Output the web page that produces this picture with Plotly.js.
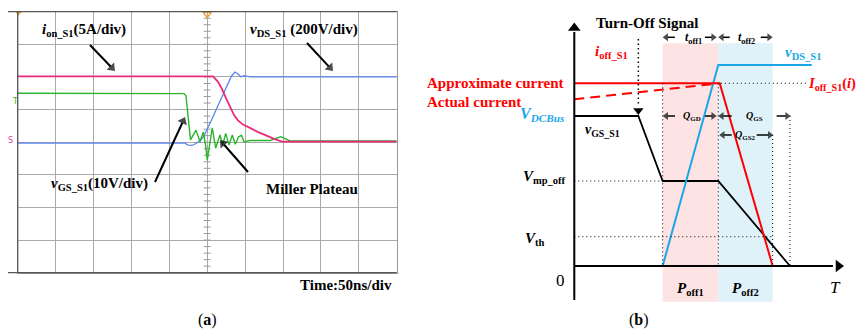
<!DOCTYPE html>
<html><head><meta charset="utf-8">
<script src="https://cdn.plot.ly/plotly-3.0.1.min.js"></script>
<style>html,body{margin:0;padding:0;background:#fff;}#chart{width:857px;height:331px;}</style>
</head><body><div id="chart"></div>
<script>
// ---------- Panel (a): oscilloscope traces (time in ns, amplitude in divisions) ----------
const ionTime = [-250, 7.7, 14.3, 19.5, 24.8, 30.1, 35.4, 40.6, 47.2, 56.5, 67.1, 77.6, 88.1, 98.7, 250];
const ionDiv  = [2.02, 2.02, 1.85, 1.63, 1.35, 1.08, 0.83, 0.67, 0.54, 0.44, 0.31, 0.21, 0.10, 0.02, 0.02];
const vdsTime = [-250, -29.3, -25.3, -20.1, -14.8, -9.5, -4.2, 1.1, 6.3, 11.6, 16.9, 22.2, 27.4, 32.1, 36.7, 40.6, 44.6, 48.5, 56.5, 250];
const vdsDiv  = [-0.03, -0.03, -0.09, -0.10, -0.04, 0.04, 0.19, 0.44, 0.71, 0.99, 1.26, 1.54, 1.81, 2.03, 2.15, 2.09, 2.00, 2.04, 2.00, 2.00];
const vgsTime = [-250, -30.6, -28.0, -26.0, -24.0, -22.0, -14.8, -9.5, -5.1, -2.2, 0.1, 3.0, 6.7, 11.2, 16.9, 20.4, 24.4, 28.8, 33.1, 37.1, 41.3, 45.2, 48.5, 56.5, 69.7, 82.8, 92.1, 97.4, 102.6, 109.2, 250];
const vgsDiv  = [1.50, 1.49, 1.42, 0.99, 0.37, 0.07, 0.37, 0.02, 0.31, -0.09, -0.55, -0.12, 0.44, -0.18, 0.22, -0.09, 0.27, -0.09, 0.22, -0.06, 0.16, 0.21, 0.01, 0.05, 0.04, 0.05, 0.13, 0.17, 0.11, 0.04, 0.04];
const timeRange = [-250, 250];   // 10 div x 50 ns
const divRange = [-4, 4];        // 8 vertical divisions

// ---------- Panel (b): idealised turn-off waveforms (arbitrary units) ----------
const gsT = [0, 5.77, 7.96, 12.97, 19.43];
const gsV = [15.0, 15.0, 8.5, 8.5, 0];
const dsT = [7.96, 12.97, 21.39];
const dsV = [0, 20.1, 20.1];
const apT = [0, 13.1, 17.87];
const apV = [18.27, 18.27, 0];
const acT = [0, 13.1];
const acV = [16.67, 18.27];
const phaseEdges = [7.96, 12.97, 17.87];   // t1, t2, t3
const tTurnOff = 5.77, tGateEnd = 19.43;
const vMp = 8.5, vTh = 2.93, iOff = 18.27;

const W = 857, H = 331;
const SERIF = 'Liberation Serif, Times New Roman, serif';
const BLUEB = '#1aa7e8', RED = '#ff0000';
const PINK = '#ec2a7c', GREEN = '#2cb52c', BLUEA = '#5a86ee';

// panel (b) unit -> pixel helpers (x2: 11.1 px/unit from 574.3; y2: 10 px/unit from 266)
const bx = t => 574.3 + t * 11.1;
const by = v => 266 - v * 10;

function P(px, py){ return {x: px / W, y: 1 - py / H}; }
function txt(px, py, text, size, opts){
  const p = P(px, py);
  return Object.assign({xref:'paper', yref:'paper', x:p.x, y:p.y, text:text, showarrow:false,
    xanchor:'center', yanchor:'middle', font:{family:SERIF, size:size, color:'#000'}}, opts || {});
}

// arrows (tail -> head) in page pixels: [tx, ty, hx, hy, lineWidth, headSize]
const arrowList = [
  [90, 45, 115, 71, 2, 9],
  [307, 43, 333, 71, 2, 9],
  [155, 182, 185, 117, 2, 9],
  [248, 172, 220, 140, 2, 9],
  [bx(9.06), by(22.87), bx(phaseEdges[0]), by(22.87), 1.5, 7],
  [bx(11.77), by(22.87), bx(12.83), by(22.87), 1.5, 7],
  [bx(14.0), by(22.87), bx(phaseEdges[1]), by(22.87), 1.5, 7],
  [bx(16.8), by(22.87), bx(phaseEdges[2]), by(22.87), 1.5, 7],
  [bx(9.07), by(15.0), bx(phaseEdges[0]), by(15.0), 1.5, 7],
  [bx(11.77), by(15.0), bx(12.83), by(15.0), 1.5, 7],
  [bx(14.18), by(15.0), bx(phaseEdges[1]), by(15.0), 1.5, 7],
  [bx(18.23), by(15.0), bx(19.49), by(15.0), 1.5, 7],
  [bx(14.18), by(13.1), bx(13.06), by(13.1), 1.5, 7],
  [bx(16.43), by(13.1), bx(17.93), by(13.1), 1.5, 7]
];

function pl(px0, py0, px1, py1, color, width){
  const a = P(px0, py0), b = P(px1, py1);
  return {type:'line', xref:'paper', yref:'paper', x0:a.x, y0:a.y, x1:b.x, y1:b.y, line:{color:color, width:width}};
}

const arrowShapes = [];
const headX = [], headY = [], headA = [], headS = [];
arrowList.forEach(([tx, ty, hx, hy, lw, hs]) => {
  const dx = hx - tx, dy = hy - ty, L = Math.hypot(dx, dy);
  const ux = dx / L, uy = dy / L;
  arrowShapes.push(pl(tx, ty, hx - ux * hs * 0.7, hy - uy * hs * 0.7, '#000', lw));
  headX.push(hx - ux * hs * 0.5); headY.push(hy - uy * hs * 0.5);
  headA.push(Math.atan2(dx, -dy) * 180 / Math.PI); headS.push(hs);
});

// minor ticks on the centre graticule line
const minorY = [];
for (let k = -20; k <= 20; k++) minorY.push(k / 5);
const minorX = minorY.map(() => 0);

const traces = [
  {x: minorX, y: minorY, xaxis:'x', yaxis:'y', mode:'markers', hoverinfo:'skip',
   marker:{symbol:'line-ew', size:5, line:{width:1, color:'#9a9a9a'}}},
  {x: vdsTime, y: vdsDiv, xaxis:'x', yaxis:'y', mode:'lines', line:{color:BLUEA, width:1.3}},
  {x: vgsTime, y: vgsDiv, xaxis:'x', yaxis:'y', mode:'lines', line:{color:GREEN, width:1.4}},
  {x: ionTime, y: ionDiv, xaxis:'x', yaxis:'y', mode:'lines', line:{color:PINK, width:1.8}},
  // scope markers
  {x:[0], y:[3.93], xaxis:'x', yaxis:'y', mode:'markers', cliponaxis:false,
   marker:{symbol:'triangle-down-open', size:7, color:'#f0a030', line:{width:1.5, color:'#f0a030'}}},
  {x:[-249], y:[3.95], xaxis:'x', yaxis:'y', mode:'markers', cliponaxis:false,
   marker:{symbol:'triangle-down', size:5, color:'#f0a030'}},
  {x:[-251], y:[1.01], xaxis:'x', yaxis:'y', mode:'markers', cliponaxis:false,
   marker:{symbol:'triangle-right', size:6, color:GREEN}},
  {x:[-253], y:[-0.03], xaxis:'x', yaxis:'y', mode:'markers', cliponaxis:false,
   marker:{symbol:'triangle-right', size:5, color:BLUEA}},
  {x:[-255], y:[-0.13], xaxis:'x', yaxis:'y', mode:'markers', cliponaxis:false,
   marker:{symbol:'triangle-down', size:5, color:'#c030c0'}},

  // panel (b)
  {x: acT, y: acV, xaxis:'x2', yaxis:'y2', mode:'lines', line:{color:RED, width:2, dash:'10px,6px'}},
  {x: gsT, y: gsV, xaxis:'x2', yaxis:'y2', mode:'lines', line:{color:'#000', width:1.8}},
  {x: dsT, y: dsV, xaxis:'x2', yaxis:'y2', mode:'lines', line:{color:BLUEB, width:2}},
  {x: apT, y: apV, xaxis:'x2', yaxis:'y2', mode:'lines', line:{color:RED, width:2}},
  {x:[0], y:[23.8], xaxis:'x2', yaxis:'y2', mode:'markers', cliponaxis:false,
   marker:{symbol:'triangle-up', size:11, color:'#000'}},
  {x:[23.8], y:[0], xaxis:'x2', yaxis:'y2', mode:'markers', cliponaxis:false,
   marker:{symbol:'triangle-right', size:11, color:'#000'}},
  {x:[tTurnOff], y:[15.55], xaxis:'x2', yaxis:'y2', mode:'markers', cliponaxis:false,
   marker:{symbol:'triangle-down', size:9, color:'#000'}},

  // arrowheads of the annotation arrows (page-pixel overlay axes)
  {x: headX, y: headY, xaxis:'x3', yaxis:'y3', mode:'markers', cliponaxis:false, hoverinfo:'skip',
   marker:{symbol:'triangle-up', size:headS, angle:headA, color:'#000', line:{width:0}}}
];

const dotLine = {color:'#000', width:1, dash:'1px,3px'};
function segB(x0, y0, x1, y1, line, layer){
  return {type:'line', xref:'x2', yref:'y2', x0:x0, y0:y0, x1:x1, y1:y1, line:line, layer:layer || 'above'};
}

const shapes = [
  // scope frame
  pl(8, 11.7, 396.7, 11.7, '#555', 1.3),
  pl(8, 272.7, 396.7, 272.7, '#555', 1.3),
  pl(17.7, 11.7, 17.7, 272.7, '#555', 1.3),
  // panel (b) phase shading
  {type:'rect', xref:'x2', yref:'y2', x0:phaseEdges[0], x1:phaseEdges[1], y0:-3.57, y1:22.27,
   fillcolor:'#fde3e3', line:{width:0}, layer:'below'},
  {type:'rect', xref:'x2', yref:'y2', x0:phaseEdges[1], x1:phaseEdges[2], y0:-3.57, y1:22.27,
   fillcolor:'#dff2f9', line:{width:0}, layer:'below'},
  // dotted guides
  segB(phaseEdges[0], iOff, phaseEdges[0], 0, dotLine),
  segB(phaseEdges[1], iOff, phaseEdges[1], 0, dotLine),
  segB(phaseEdges[2], 13.1, phaseEdges[2], 0, dotLine),
  segB(tGateEnd, 15.0, tGateEnd, 0, dotLine),
  segB(13.2, iOff, 20.9, iOff, dotLine),
  segB(0, vMp, phaseEdges[0], vMp, dotLine),
  segB(0, vTh, phaseEdges[2], vTh, dotLine),
  segB(tTurnOff, 22.7, tTurnOff, 16.0, {color:'#000', width:1.5, dash:'1.5px,3px'}),
  // axes of panel (b)
  segB(0, -3.4, 0, 23.4, {color:'#000', width:2}),
  segB(0, 0, 23.3, 0, {color:'#000', width:2})
].concat(arrowShapes);

const ann = [
  // panel (a) labels
  txt(40, 30, '<b><i>i</i><sub>on_S1</sub>(5A/div)</b>', 15, {xanchor:'left'}),
  txt(248, 30, '<b><i>v</i><sub>DS_S1</sub> (200V/div)</b>', 15, {xanchor:'left'}),
  txt(49, 184, '<b><i>v</i><sub>GS_S1</sub>(10V/div)</b>', 15, {xanchor:'left'}),
  txt(264, 188.5, '<b>Miller Plateau</b>', 15, {xanchor:'left'}),
  txt(298, 285, '<b>Time:50ns/div</b>', 15, {xanchor:'left'}),
  txt(207, 320, '(<b>a</b>)', 16),
  txt(15, 101, 'T', 8, {font:{family:'DejaVu Sans', size:8, color:GREEN}}),
  txt(10, 140, 'S', 8, {font:{family:'DejaVu Sans', size:8, color:'#e040a0'}}),
  // panel (b) labels
  txt(647, 22.7, '<b>Turn-Off Signal</b>', 15),
  txt(425, 82.7, '<b>Approximate current</b>', 15, {xanchor:'left', font:{family:SERIF, size:15, color:RED}}),
  txt(425, 101.7, '<b>Actual current</b>', 15, {xanchor:'left', font:{family:SERIF, size:15, color:RED}}),
  txt(567, 114, '<b><i>V<sub>DCBus</sub></i></b>', 16, {xanchor:'right', font:{family:SERIF, size:16, color:BLUEB}}),
  txt(611, 52, '<b><i>i</i><sub>off_S1</sub></b>', 15, {font:{family:SERIF, size:15, color:RED}}),
  txt(802.5, 53.5, '<b><i>v</i><sub>DS_S1</sub></b>', 15, {font:{family:SERIF, size:15, color:BLUEB}}),
  txt(806, 84, '<b><i>I</i><sub>off_S1</sub>(<i>i</i>)</b>', 14.5, {xanchor:'left', font:{family:SERIF, size:14.5, color:RED}}),
  txt(602.5, 130.5, '<b><i>v</i><sub>GS_S1</sub></b>', 14),
  txt(568, 177, '<b><i>V</i><sub>mp_off</sub></b>', 15, {xanchor:'right'}),
  txt(523, 239, '<b><i>V</i><sub>th</sub></b>', 15, {xanchor:'left'}),
  txt(560, 280, '0', 17),
  txt(835, 287, '<i>T</i>', 17),
  txt(690, 289, '<b><i>P</i><sub>off1</sub></b>', 15),
  txt(745, 289, '<b><i>P</i><sub>off2</sub></b>', 15),
  txt(639.3, 320, '(<b>b</b>)', 16),
  txt(693, 38, '<b><i>t</i><sub>off1</sub></b>', 12),
  txt(746.7, 38, '<b><i>t</i><sub>off2</sub></b>', 12),
  txt(691.7, 116.5, '<b><i>Q</i><sub>GD</sub></b>', 10),
  txt(754.7, 116.5, '<b><i>Q</i><sub>GS</sub></b>', 10),
  txt(745.8, 135.5, '<b><i>Q</i><sub>GS2</sub></b>', 10)
];

const gridAx = {showgrid:true, gridcolor:'#a9a9a9', gridwidth:1, zeroline:false,
  showticklabels:false, ticks:'', showline:true, mirror:true, linecolor:'#999', linewidth:1, fixedrange:true};

const layout = {
  width:W, height:H, margin:{l:0, r:0, t:0, b:0}, showlegend:false,
  paper_bgcolor:'#fff', plot_bgcolor:'rgba(0,0,0,0)',
  xaxis: Object.assign({domain:[17.7/W, 396.7/W], range:timeRange, dtick:50, tick0:0, anchor:'y'}, gridAx),
  yaxis: Object.assign({domain:[1-272.7/H, 1-11.7/H], range:divRange, dtick:1, tick0:0, anchor:'x'}, gridAx),
  xaxis2: {domain:[0.5, 1], range:[-13.135, 25.468], visible:false, anchor:'y2', fixedrange:true},
  yaxis2: {domain:[0, 1], range:[-6.5, 26.6], visible:false, anchor:'x2', fixedrange:true},
  xaxis3: {domain:[0, 1], range:[0, W], visible:false, anchor:'y3', fixedrange:true},
  yaxis3: {domain:[0, 1], range:[H, 0], visible:false, anchor:'x3', fixedrange:true},
  shapes: shapes,
  annotations: ann
};

Plotly.newPlot('chart', traces, layout, {displayModeBar:false, staticPlot:true});
</script>
</body></html>
